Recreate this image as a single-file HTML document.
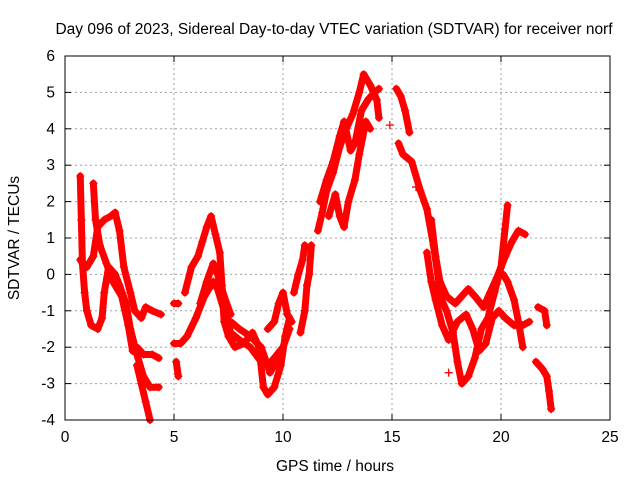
<!DOCTYPE html>
<html><head><meta charset="utf-8"><style>
body{margin:0;background:#fff;}
svg text{font-family:"Liberation Sans",sans-serif;font-size:15.5px;fill:#000;}
</style></head><body>
<svg id="chart" width="640" height="480" xmlns="http://www.w3.org/2000/svg">
<rect width="640" height="480" fill="#fff"/>
<g id="grid"></g>
<g id="marks"></g>
<rect x="65" y="56" width="545" height="364" fill="none" stroke="#000" stroke-width="1"/>
<g id="axes"></g>
<text x="334" y="34" text-anchor="middle">Day 096 of 2023, Sidereal Day-to-day VTEC variation (SDTVAR) for receiver norf</text>
<text x="335" y="471" text-anchor="middle">GPS time / hours</text>
<text x="19" y="238" text-anchor="middle" transform="rotate(-90 19 238)">SDTVAR / TECUs</text>
</svg>
<script>
const xTicks=[0,5,10,15,20,25];
const yTicks=[-4,-3,-2,-1,0,1,2,3,4,5,6];
const tracks=[
[[0.7,2.7],[0.75,1.5],[0.8,0.3],[0.9,-0.5],[1.0,-1.0],[1.2,-1.4],[1.5,-1.5],[1.7,-1.2],[1.8,-0.5],[2.0,0.2],[2.3,0.0],[2.5,-0.3],[2.8,-0.8],[3.0,-1.5],[3.3,-2.2],[3.6,-2.8],[3.9,-3.1],[4.3,-3.1]],
[[0.7,0.4],[1.0,0.2],[1.3,0.5],[1.5,1.3],[1.8,1.5],[2.1,1.6],[2.3,1.7],[2.5,1.2],[2.7,0.2],[3.0,-0.5],[3.2,-1.0],[3.5,-1.2],[3.7,-0.9],[4.0,-1.0],[4.4,-1.1]],
[[1.3,2.5],[1.4,1.5],[1.6,0.8],[1.9,0.3],[2.2,-0.2],[2.6,-0.6],[2.9,-1.4],[3.1,-2.1],[3.3,-2.0],[3.6,-2.2],[4.0,-2.2],[4.3,-2.3]],
[[3.3,-2.5],[3.5,-3.0],[3.7,-3.5],[3.9,-4.0]],
[[5.0,-1.9],[5.3,-1.9],[5.6,-1.7],[6.0,-1.2],[6.4,-0.6],[6.8,-0.2],[7.0,-0.4],[7.3,-1.0],[7.6,-1.6],[8.0,-1.8],[8.5,-2.0],[9.0,-2.4],[9.3,-2.5],[9.6,-2.3],[10.0,-2.0],[10.3,-1.5]],
[[5.1,-2.4],[5.2,-2.8]],
[[5.5,-0.5],[5.8,0.2],[6.1,0.5],[6.3,0.9],[6.5,1.3],[6.7,1.6],[6.9,1.1],[7.1,0.6],[7.2,-0.3],[7.3,-1.3],[7.5,-1.7],[7.8,-2.0],[8.2,-1.9],[8.6,-1.6],[8.9,-2.0],[9.1,-3.1],[9.3,-3.3],[9.6,-3.1],[9.9,-2.5],[10.1,-1.7],[10.3,-1.2]],
[[7.6,-1.3],[8.0,-1.5],[8.5,-1.7],[9.0,-2.0],[9.4,-2.7],[9.7,-2.4]],
[[5.0,-0.8],[5.2,-0.8]],
[[6.2,-0.8],[6.5,-0.2],[6.8,0.3],[7.0,0.0],[7.3,-0.6],[7.6,-1.1]],
[[9.3,-1.5],[9.6,-1.3],[9.8,-0.8],[10.0,-0.5],[10.2,-1.1],[10.4,-1.3]],
[[10.8,-1.6],[11.0,-1.0],[11.1,-0.3],[11.2,0.0],[11.3,0.8]],
[[10.5,-0.5],[10.7,0.0],[10.9,0.4],[11.0,0.8]],
[[11.6,1.2],[11.8,1.7],[12.0,2.3],[12.3,2.8],[12.6,3.5],[12.9,4.0],[13.2,4.4],[13.5,5.0],[13.7,5.5],[14.0,5.2],[14.3,4.8],[14.4,4.3]],
[[11.7,2.0],[12.0,2.6],[12.3,3.1],[12.6,3.8],[12.8,4.2],[13.1,3.4],[13.3,3.6],[13.6,4.5],[13.9,4.8],[14.2,5.0],[14.4,5.1]],
[[12.1,1.6],[12.4,2.2],[12.6,1.6],[12.8,1.3],[13.0,2.0],[13.3,2.6],[13.5,3.3],[13.8,4.2],[14.0,4.0]],
[[15.2,5.1],[15.4,4.9],[15.6,4.5],[15.8,3.9]],
[[15.3,3.6],[15.5,3.3],[15.9,3.1],[16.3,2.3],[16.6,1.8],[16.9,0.8],[17.1,0.0],[17.2,-0.6],[17.5,-1.0],[17.8,-1.6],[18.0,-2.4],[18.2,-3.0],[18.5,-2.8],[18.8,-2.3],[19.1,-1.5],[19.4,-1.2],[19.7,-0.5],[20.0,0.2],[20.3,1.9]],
[[16.8,1.5],[17.0,0.5],[17.2,-0.2],[17.5,-0.6],[17.9,-0.8],[18.2,-0.6],[18.5,-0.4],[18.8,-0.6],[19.2,-0.9],[19.5,-0.5],[19.8,-0.1],[20.2,0.5],[20.5,0.9],[20.8,1.2],[21.1,1.1]],
[[16.6,0.6],[16.8,-0.2],[17.0,-0.7],[17.3,-1.4],[17.6,-1.8],[18.0,-1.3],[18.4,-1.1],[18.7,-1.5],[19.0,-2.1],[19.3,-1.9],[19.6,-1.2],[19.9,-1.0],[20.2,-1.2],[20.6,-1.4],[21.0,-1.4],[21.3,-1.3]],
[[20.1,0.0],[20.3,-0.2],[20.6,-0.7],[20.8,-1.3],[21.0,-2.0]],
[[21.7,-0.9],[22.0,-1.0],[22.1,-1.4]],
[[21.6,-2.4],[21.9,-2.6],[22.1,-2.8],[22.2,-3.2],[22.3,-3.7]],
[[14.9,4.1]],[[17.6,-2.7]],[[16.1,2.4]]
];
const X0=65,X1=610,Y0=420,Y1=56;
const xs=v=>X0+(v-0)/(25-0)*(X1-X0);
const ys=v=>Y0-(v-(-4))/(6-(-4))*(Y0-Y1);
const NS="http://www.w3.org/2000/svg";
function mk(t,a,p){const e=document.createElementNS(NS,t);for(const k in a)e.setAttribute(k,a[k]);p.appendChild(e);return e;}
const grid=document.getElementById('grid'),axes=document.getElementById('axes'),marks=document.getElementById('marks');
xTicks.forEach(v=>{
 const x=xs(v);
 if(v>0&&v<25){const g=mk('line',{x1:x,x2:x,y1:Y0,y2:Y1,stroke:'#a0a0a0','stroke-dasharray':'2,3'},grid);
 
 }
 mk('line',{x1:x,x2:x,y1:Y0,y2:Y0-6,stroke:'#000'},axes);
 mk('line',{x1:x,x2:x,y1:Y1,y2:Y1+6,stroke:'#000'},axes);
 const t=mk('text',{x:x,y:Y0+22,'text-anchor':'middle'},axes);t.textContent=v;
 
 
});
yTicks.forEach(v=>{
 const y=ys(v);
 if(v>-4&&v<6){const g=mk('line',{x1:X0,x2:X1,y1:y,y2:y,stroke:'#a0a0a0','stroke-dasharray':'2,3'},grid);
 
 }
 mk('line',{x1:X0,x2:X0+6,y1:y,y2:y,stroke:'#000'},axes);
 mk('line',{x1:X1,x2:X1-6,y1:y,y2:y,stroke:'#000'},axes);
 const t=mk('text',{x:X0-10,y:y+5,'text-anchor':'end'},axes);t.textContent=v;
 
 
});
tracks.forEach(tr=>{
 if(tr.length>1){
  const pl=mk('polyline',{points:tr.map(p=>xs(p[0])+','+ys(p[1])).join(' '),fill:'none',stroke:'#ff0000','stroke-width':7,'stroke-linejoin':'round','stroke-linecap':'round'},marks);
  
  
 }
 tr.forEach(p=>{
  const x=xs(p[0]),y=ys(p[1]);
  const m=mk('path',{d:`M${x-4},${y}H${x+4}M${x},${y-4}V${y+4}`,stroke:'#ff0000','stroke-width':1.3},marks);
  
  
 });
});
</script>
</body></html>
